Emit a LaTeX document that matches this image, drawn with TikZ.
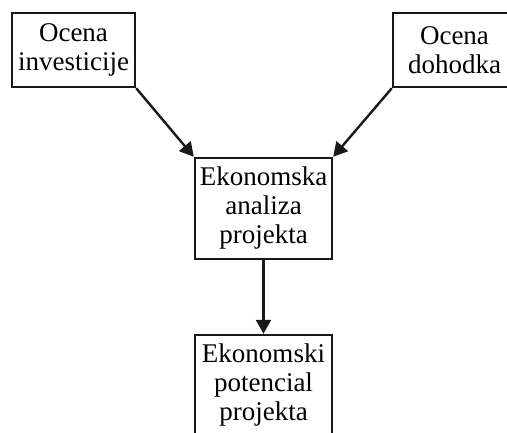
\documentclass[tikz,border=0pt]{standalone}
\usepackage{fontspec}
\setmainfont{Liberation Serif}
\usetikzlibrary{arrows.meta}
\begin{document}
\begin{tikzpicture}[x=1pt,y=-1pt,
  box/.style={draw=black!90, line width=2.4pt, rectangle, inner sep=0pt, align=center,
    font=\fontsize{27}{29}\selectfont},
  conn/.style={line width=2.4pt, draw=black!90, -{Triangle[length=14pt,width=15pt]}}]
\clip (0,0) rectangle (507,432);
\useasboundingbox (0,0) rectangle (507,432);
\node[box, minimum width=123pt, minimum height=74pt] (inv) at (73.5,50) {Ocena\\investicije};
\node[box, minimum width=123pt, minimum height=74pt] (doh) at (454.5,50) {Ocena\\dohodka};
\node[box, minimum width=137pt, minimum height=101pt] (eka) at (263.5,208.5) {Ekonomska\\analiza\\projekta};
\node[box, minimum width=137pt, minimum height=101pt] (ekp) at (263.5,385.5) {Ekonomski\\potencial\\projekta};
\draw[conn] (inv.south east) -- (eka.north west);
\draw[conn] (doh.south west) -- (eka.north east);
\draw[conn] (eka.south) -- (ekp.north);
\end{tikzpicture}
\end{document}
